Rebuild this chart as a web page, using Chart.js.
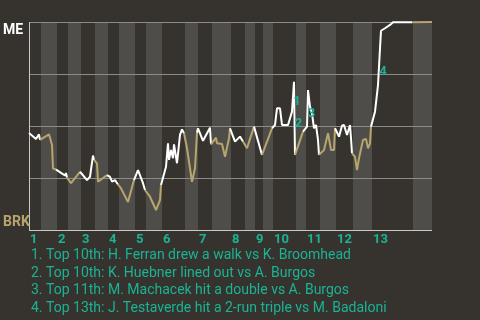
<!DOCTYPE html>
<html>
<head>
<meta charset="utf-8">
<script src="https://cdn.jsdelivr.net/npm/chart.js@4.4.0/dist/chart.umd.min.js"></script>
<style>
  body { margin: 0; background: #36332f; }
  canvas { display: block; }
</style>
</head>
<body>
<canvas id="wpChart" width="480" height="320"></canvas>
<script>
// pitch count of the game at each play, and ME win probability (%) after it
const pitchNo = [
  0, 7, 10, 11, 20, 23, 24, 27, 29, 32, 36, 37, 38, 42, 51, 58, 61, 64, 65, 68,
  69, 78, 81, 83, 86, 89, 92, 99, 105, 109, 114, 116, 121, 127, 131, 132, 137, 139, 140, 142,
  144, 145, 148, 151, 153, 155, 158, 163, 166, 168, 169, 174, 181, 182, 187, 188, 193, 196, 200, 201,
  206, 211, 214, 218, 225, 233, 243, 246, 248, 251, 253, 259, 263, 265, 266, 274, 278, 279, 281, 283,
  285, 287, 289, 290, 295, 299, 302, 305, 306, 310, 313, 315, 318, 321, 322, 323, 326, 328, 330, 334,
  337, 339, 341, 342, 346, 349, 351, 352, 356, 361, 364, 383, 403
];
const winProb = [
  46.6, 43.8, 46.0, 43.3, 46.0, 40.9, 29.6, 29.1, 28.4, 27.5, 26.2, 27.4, 25.2, 22.5, 28.0, 24.0, 25.6, 35.8, 33.7, 32.0,
  23.2, 26.4, 25.5, 23.3, 24.0, 21.9, 20.0, 13.5, 24.0, 28.8, 22.5, 19.2, 16.0, 9.6, 14.4, 21.6, 30.4, 41.7, 33.7, 38.5,
  34.5, 41.2, 32.1, 45.7, 48.4, 46.5, 39.3, 23.2, 29.7, 46.8, 48.9, 42.9, 49.2, 41.2, 44.4, 41.7, 41.3, 35.2, 44.1, 48.9,
  42.5, 44.9, 42.5, 39.3, 49.7, 36.1, 48.9, 50.5, 58.5, 58.5, 50.5, 50.5, 56.9, 71.3, 36.1, 47.3, 49.7, 67.3, 59.3, 56.1,
  48.9, 50.5, 43.3, 36.1, 38.5, 46.5, 38.5, 38.5, 48.9, 44.9, 50.1, 50.5, 45.7, 50.5, 44.1, 36.9, 35.2, 28.8, 34.5, 43.3,
  43.8, 39.3, 41.7, 49.7, 56.9, 69.7, 87.4, 95.8, 97.0, 98.6, 99.9, 99.9, 100
];

// first pitch of every half inning (top 1, bottom 1, top 2, ...)
const halfStarts = [0, 12, 28, 39, 52, 66, 79, 90, 106, 117, 133, 156, 169, 183, 202, 216, 226, 234, 244, 267, 277, 291, 307, 324, 343, 384];
const lastPitch = 403;
const innings = ["1", "2", "3", "4", "5", "6", "7", "8", "9", "10", "11", "12", "13"];
const yTicks = [0, 25, 50, 75, 100];
const teams = ["ME", "BRK"];

const keyPlays = [265, 266, 279, 351];
const keyNotes = [
  "1. Top 10th: H. Ferran drew a walk vs K. Broomhead",
  "2. Top 10th: K. Huebner lined out vs A. Burgos",
  "3. Top 11th: M. Machacek hit a double vs A. Burgos",
  "4. Top 13th: J. Testaverde hit a 2-run triple vs M. Badaloni"
];

const WHITE = "#ffffff";
const TAN = "#b8a56c";
const TEAL = "#1ab394";
const FONT = "Roboto, 'Noto Sans', sans-serif";

function halfOf(p) {
  let h = 0;
  halfStarts.forEach((s, i) => { if (p >= s) h = i; });
  return h;
}

const backdrop = {
  id: "backdrop",
  beforeDatasetsDraw(chart) {
    const ctx = chart.ctx;
    const area = chart.chartArea;
    const x = chart.scales.x;
    const y = chart.scales.y;
    ctx.save();

    // bottom halves get the lighter band
    ctx.fillStyle = "#4f4d4a";
    halfStarts.forEach((s, i) => {
      if (i % 2 === 0) return;
      const end = i + 1 < halfStarts.length ? halfStarts[i + 1] : lastPitch;
      const x0 = Math.round(x.getPixelForValue(s));
      const x1 = Math.round(x.getPixelForValue(end));
      ctx.fillRect(x0, area.top, x1 - x0, area.bottom - area.top);
    });

    ctx.lineWidth = 1;
    yTicks.forEach(t => {
      const py = Math.round(y.getPixelForValue(t)) + 0.5;
      ctx.strokeStyle = t === 0 ? "#c8c8c6" : "#8c8b88";
      ctx.beginPath();
      ctx.moveTo(area.left, py);
      ctx.lineTo(area.right, py);
      ctx.stroke();
    });

    ctx.strokeStyle = "#c8c8c6";
    ctx.beginPath();
    ctx.moveTo(area.left + 0.5, area.top);
    ctx.lineTo(area.left + 0.5, area.bottom + 1);
    ctx.stroke();
    ctx.restore();
  }
};

const texts = {
  id: "texts",
  afterDraw(chart) {
    const ctx = chart.ctx;
    const x = chart.scales.x;
    const y = chart.scales.y;
    ctx.save();
    ctx.textBaseline = "alphabetic";
    ctx.textAlign = "left";

    ctx.font = "bold 14px " + FONT;
    ctx.fillStyle = WHITE;
    ctx.fillText(teams[0], 3, 34);
    ctx.fillStyle = TAN;
    ctx.fillText(teams[1], 3, 226);

    ctx.font = "bold 13px " + FONT;
    ctx.fillStyle = TEAL;
    innings.forEach((lab, k) => {
      ctx.fillText(lab, x.getPixelForValue(halfStarts[k * 2]) + 1, 243);
    });

    ctx.font = "14px " + FONT;
    keyNotes.forEach((note, i) => {
      ctx.fillText(note, 31, 259 + i * 17.7);
    });

    // numbers next to the key plays
    ctx.font = "bold 13px " + FONT;
    ctx.textAlign = "center";
    ctx.textBaseline = "middle";
    keyPlays.forEach((p, i) => {
      const j = pitchNo.indexOf(p);
      const mx = (x.getPixelForValue(pitchNo[j - 1]) + x.getPixelForValue(p)) / 2;
      const my = (y.getPixelForValue(winProb[j - 1]) + y.getPixelForValue(winProb[j])) / 2;
      ctx.fillText(String(i + 1), mx + 4, my + 5);
    });
    ctx.restore();
  }
};

const ctx = document.getElementById("wpChart").getContext("2d");

new Chart(ctx, {
  type: "line",
  data: {
    datasets: [{
      data: pitchNo.map((p, i) => ({ x: p, y: winProb[i] })),
      borderColor: WHITE,
      borderWidth: 2,
      borderJoinStyle: "bevel",
      pointRadius: 0,
      tension: 0,
      clip: false,
      segment: {
        borderColor: c => halfOf(pitchNo[c.p1DataIndex]) % 2 === 0 ? WHITE : TAN
      }
    }]
  },
  options: {
    responsive: false,
    animation: false,
    layout: { padding: { left: 29, top: 22, right: 48, bottom: 90 } },
    plugins: { legend: { display: false }, tooltip: { enabled: false } },
    scales: {
      x: { type: "linear", min: 0, max: lastPitch, display: false },
      y: { min: 0, max: 100, display: false }
    }
  },
  plugins: [backdrop, texts]
});
</script>
</body>
</html>
